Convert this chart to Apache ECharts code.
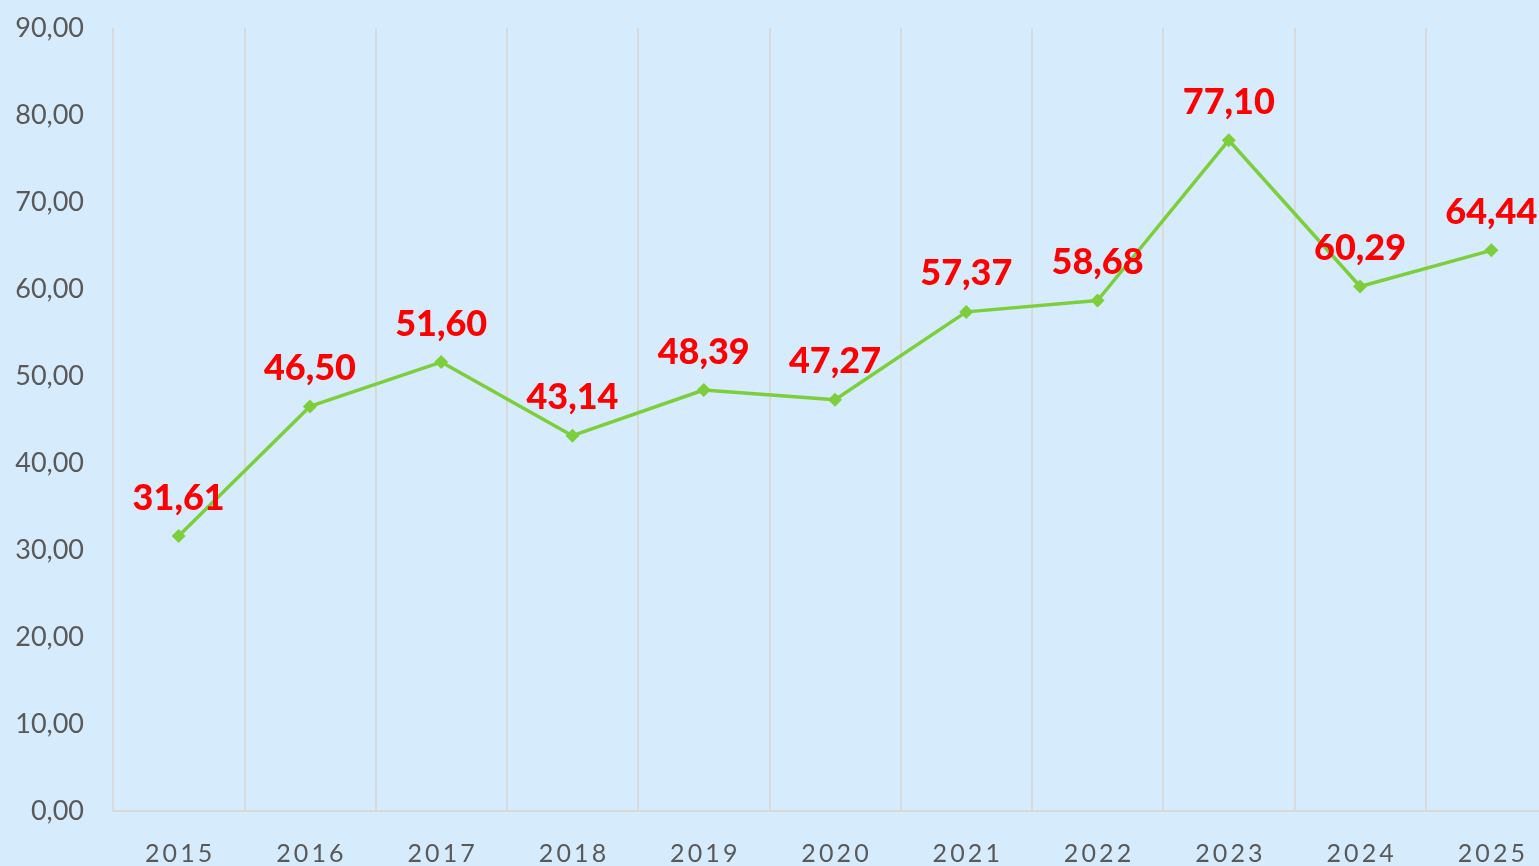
<!DOCTYPE html>
<html>
<head>
<meta charset="utf-8">
<style>
  html, body { margin: 0; padding: 0; background: #d6ebfc; overflow: hidden; }
  #chart { width: 1557px; height: 866px; }
</style>
<script src="https://cdn.jsdelivr.net/npm/echarts@6/dist/echarts.min.js"></script>
</head>
<body>
<div id="chart"></div>
<script>
const years = ['2015', '2016', '2017', '2018', '2019', '2020', '2021', '2022', '2023', '2024', '2025']
const values = [31.61, 46.50, 51.60, 43.14, 48.39, 47.27, 57.37, 58.68, 77.10, 60.29, 64.44]

const fmt = (v) => v.toFixed(2).replace('.', ',')

// the plot area runs past the right edge of the window, so the chart box is a bit wider than the page
const chart = echarts.init(document.getElementById('chart'))
chart.setOption({
  backgroundColor: '#d6ebfc',
  animation: false,
  grid: {
    left: 113,
    right: 0,
    top: 28,
    bottom: 55
  },
  xAxis: {
    type: 'category',
    data: years,
    boundaryGap: true,
    axisLine: { lineStyle: { color: '#d9d9d9', width: 2 } },
    axisTick: { show: false },
    splitLine: { show: true, lineStyle: { color: '#d9d9d9', width: 2 } },
    axisLabel: {
      color: '#595959',
      fontSize: 25,
      fontFamily: 'Lato',
      margin: 30,
      formatter: (v) => v.split('').join('\u2009')
    }
  },
  yAxis: {
    type: 'value',
    min: 0,
    max: 90,
    interval: 10,
    axisLine: { show: false },
    axisTick: { show: false },
    splitLine: { show: false },
    axisLabel: {
      color: '#595959',
      fontSize: 27,
      fontFamily: 'Lato',
      margin: 29,
      formatter: (v) => fmt(v)
    }
  },
  series: [{
    type: 'line',
    data: values,
    symbol: 'diamond',
    symbolSize: 14,
    itemStyle: { color: '#7ccf3a' },
    lineStyle: { color: '#7ccf3a', width: 3.5 },
    label: {
      show: true,
      position: 'top',
      distance: 13,
      color: '#ff0000',
      fontSize: 36,
      fontWeight: 900,
      fontFamily: 'Lato',
      formatter: (p) => fmt(p.value)
    }
  }]
})
</script>
</body>
</html>
